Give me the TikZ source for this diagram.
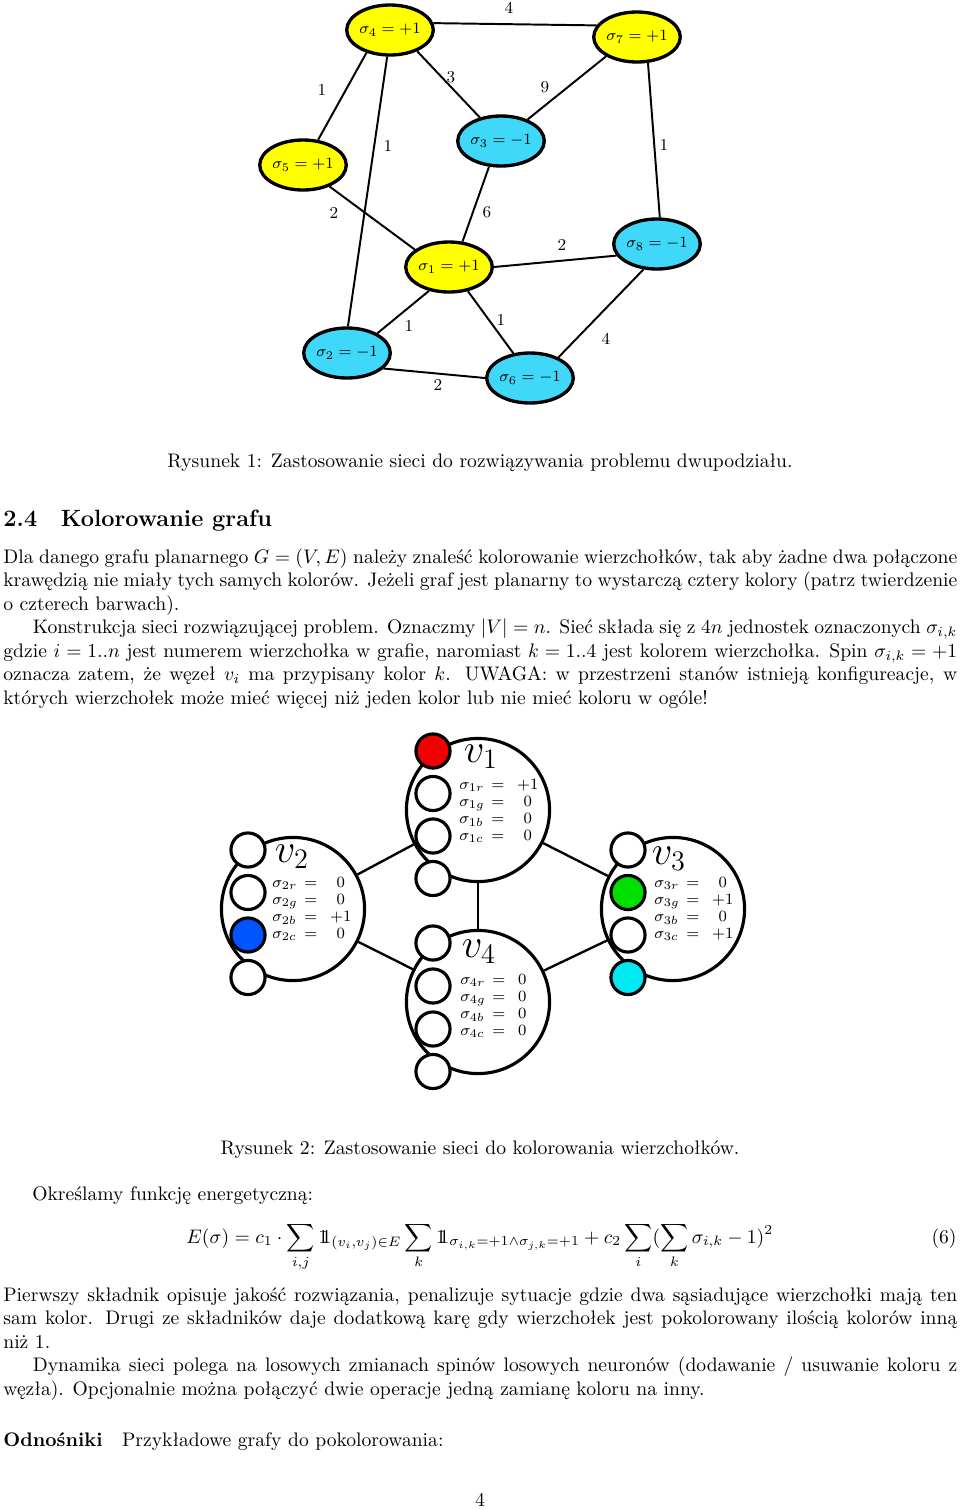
\documentclass[tikz,border=0pt]{standalone}
\usepackage{amsmath,amssymb}
\usepackage{fontspec}
\IfFileExists{dsfont.sty}{\usepackage{dsfont}\newcommand\myone{\mathds{1}}}{\newcommand\myone{\mathrm{1\!\!1}}}
\usetikzlibrary{shapes.geometric}
\definecolor{tyel}{HTML}{FFFF00}
\definecolor{tcyan}{HTML}{40D8F8}
\definecolor{cred}{HTML}{F00000}
\definecolor{cblue}{HTML}{0055FF}
\definecolor{cgreen}{HTML}{00E000}
\definecolor{ccyan}{HTML}{00E8F0}
\newcommand\spintab[1]{$\begin{array}{@{}l@{\hspace{3.4pt}}c@{\hspace{6.6pt}}c@{}}#1\end{array}$}
\begin{document}
\begin{tikzpicture}[x=0.51pt,y=-0.51pt,
  tnode/.style={ellipse, draw, line width=1.7pt, minimum width=37pt, minimum height=25.5pt, inner sep=0pt, font=\fontsize{8.5}{10}\selectfont},
  tedge/.style={line width=1pt},
  lbl/.style={inner sep=0pt, font=\fontsize{8.5}{10}\selectfont},
  bigc/.style={circle, draw, line width=1.6pt, minimum size=73pt, inner sep=0pt},
  smallc/.style={circle, draw, fill=white, line width=1.6pt, minimum size=17.4pt, inner sep=0pt},
  cedge/.style={line width=1.2pt},
  vlab/.style={inner sep=0pt, font=\huge},
  tab/.style={inner sep=0pt, anchor=west, font=\fontsize{8}{8.7}\selectfont},
  txt/.style={inner sep=0pt, anchor=base west, font=\normalsize}
]
\useasboundingbox (0,0) rectangle (960,1509);

% ---------- Figure 1 ----------
\node[tnode, fill=tyel]  (s4) at (390,30)  {$\sigma_4=+1$};
\node[tnode, fill=tyel]  (s7) at (637,37)  {$\sigma_7=+1$};
\node[tnode, fill=tcyan] (s3) at (501,141) {$\sigma_3=-1$};
\node[tnode, fill=tyel]  (s5) at (303,165) {$\sigma_5=+1$};
\node[tnode, fill=tyel]  (s1) at (449,267) {$\sigma_1=+1$};
\node[tnode, fill=tcyan] (s8) at (657,244) {$\sigma_8=-1$};
\node[tnode, fill=tcyan] (s2) at (347,353) {$\sigma_2=-1$};
\node[tnode, fill=tcyan] (s6) at (530,378) {$\sigma_6=-1$};

\draw[tedge] (s4.9) -- (s7.164);
\draw[tedge] (s4.-136) -- (s5.59);
\draw[tedge] (s4.-96) -- (s2.88);
\draw[tedge] (s4.-38) -- (s3.132);
\draw[tedge] (s7.-148) -- (s3.39);
\draw[tedge] (s7.-67) -- (s8.84);
\draw[tedge] (s5.-39) -- (s1.153);
\draw[tedge] (s3.-115) -- (s1.62);
\draw[tedge] (s1.0) -- (s8.-164);
\draw[tedge] (s1.-130) -- (s2.33);
\draw[tedge] (s1.-52) -- (s6.124);
\draw[tedge] (s8.-118) -- (s6.36);
\draw[tedge] (s2.-23) -- (s6.180);

\node[lbl] (l47) at (509,8)   {4};
\node[lbl] (l45) at (322,90)  {1};
\node[lbl] (l42) at (388,146) {1};
\node[lbl] (l43) at (451,77)  {3};
\node[lbl] (l73) at (545,87)  {9};
\node[lbl] (l78) at (664,145) {1};
\node[lbl] (l51) at (334,213) {2};
\node[lbl] (l31) at (487,212) {6};
\node[lbl] (l18) at (562,245) {2};
\node[lbl] (l12) at (409,326) {1};
\node[lbl] (l16) at (501,320) {1};
\node[lbl] (l86) at (606,339) {4};
\node[lbl] (l26) at (438,385) {2};

\node[inner sep=0pt, anchor=base] (cap1) at (480,467) {Rysunek 1: Zastosowanie sieci do rozwiązywania problemu dwupodziału.};

% ---------- Text ----------
\node[txt] (sec) at (3,526) {\large\bfseries 2.4\quad Kolorowanie grafu};

\node[txt] (par1) at (3,563) {\parbox[t]{486.5pt}{\setlength{\parindent}{15pt}\emergencystretch=2em
\noindent Dla danego grafu planarnego $G=(V,E)$ należy znaleść kolorowanie wierzchołków, tak aby żadne dwa połączone\linebreak
krawędzią nie miały tych samych kolorów. Jeżeli graf jest planarny to wystarczą cztery kolory (patrz twierdzenie\linebreak
o czterech barwach).\par
Konstrukcja sieci rozwiązującej problem. Oznaczmy $|V|=n$. Sieć składa się z $4n$ jednostek oznaczonych $\sigma_{i,k}$\linebreak
gdzie $i=1..n$ jest numerem wierzchołka w grafie, naromiast $k=1..4$ jest kolorem wierzchołka. Spin $\sigma_{i,k}=+1$\linebreak
oznacza zatem, że węzeł $v_i$ ma przypisany kolor $k$. UWAGA: w przestrzeni stanów istnieją konfigureacje, w\linebreak
których wierzchołek może mieć więcej niż jeden kolor lub nie mieć koloru w ogóle!}};

% ---------- Figure 2 ----------
\node[bigc] (v1) at (478,810) {};
\node[bigc] (v2) at (293,909) {};
\node[bigc] (v3) at (673,909) {};
\node[bigc] (v4) at (478,1002) {};

\draw[cedge] (v1) -- (v2);
\draw[cedge] (v1) -- (v3);
\draw[cedge] (v1) -- (v4);
\draw[cedge] (v2) -- (v4);
\draw[cedge] (v4) -- (v3);

\node[smallc, fill=cred] (v1r) at (433,751) {};
\node[smallc] (v1g) at (433,793.5) {};
\node[smallc] (v1b) at (433,836) {};
\node[smallc] (v1c) at (433,878.5) {};

\node[smallc] (v2r) at (248,850) {};
\node[smallc] (v2g) at (248,892.5) {};
\node[smallc, fill=cblue] (v2b) at (248,935) {};
\node[smallc] (v2c) at (248,977.5) {};

\node[smallc] (v3r) at (628,850) {};
\node[smallc, fill=cgreen] (v3g) at (628,892.5) {};
\node[smallc] (v3b) at (628,935) {};
\node[smallc, fill=ccyan] (v3c) at (628,977.5) {};

\node[smallc] (v4r) at (433,943) {};
\node[smallc] (v4g) at (433,986) {};
\node[smallc] (v4b) at (433,1029) {};
\node[smallc] (v4c) at (433,1071.5) {};

\node[vlab] (v1l) at (481,757) {$v_1$};
\node[vlab] (v2l) at (292,857) {$v_2$};
\node[vlab] (v3l) at (669,859) {$v_3$};
\node[vlab] (v4l) at (479,952) {$v_4$};

\node[tab] (t1) at (459,811.5) {\spintab{\sigma_{1r}&=&+1\\ \sigma_{1g}&=&0\\ \sigma_{1b}&=&0\\ \sigma_{1c}&=&0}};
\node[tab] (t2) at (272,909.5) {\spintab{\sigma_{2r}&=&0\\ \sigma_{2g}&=&0\\ \sigma_{2b}&=&+1\\ \sigma_{2c}&=&0}};
\node[tab] (t3) at (654,909.5) {\spintab{\sigma_{3r}&=&0\\ \sigma_{3g}&=&+1\\ \sigma_{3b}&=&0\\ \sigma_{3c}&=&+1}};
\node[tab] (t4) at (460,1006.5) {\spintab{\sigma_{4r}&=&0\\ \sigma_{4g}&=&0\\ \sigma_{4b}&=&0\\ \sigma_{4c}&=&0}};

\node[inner sep=0pt, anchor=base] (cap2) at (480,1154) {Rysunek 2: Zastosowanie sieci do kolorowania wierzchołków.};

% ---------- Equation and text ----------
\node[txt] (okr) at (32,1200) {Określamy funkcję energetyczną:};

\node[txt] (eq) at (186,1243) {$\displaystyle E(\sigma)=c_1\cdot\sum_{i,j}\myone_{(v_i,v_j)\in E}\sum_k\myone_{\sigma_{i,k}=+1\wedge\sigma_{j,k}=+1}+c_2\sum_i(\sum_k\sigma_{i,k}-1)^2$};
\node[inner sep=0pt, anchor=base east] (eqn) at (957,1243) {(6)};

\node[txt] (par2) at (3,1301) {\parbox[t]{486.5pt}{\setlength{\parindent}{15pt}\emergencystretch=2em
\noindent Pierwszy składnik opisuje jakość rozwiązania, penalizuje sytuacje gdzie dwa sąsiadujące wierzchołki mają ten\linebreak
sam kolor. Drugi ze składników daje dodatkową karę gdy wierzchołek jest pokolorowany ilością kolorów inną\linebreak
niż 1.\par
Dynamika sieci polega na losowych zmianach spinów losowych neuronów (dodawanie / usuwanie koloru z\linebreak
węzła). Opcjonalnie można połączyć dwie operacje jedną zamianę koloru na inny.}};

\node[txt] (odn) at (3,1446) {\textbf{Odnośniki}\quad Przykładowe grafy do pokolorowania:};

\node[inner sep=0pt, anchor=base] (pg) at (480,1506) {4};
\end{tikzpicture}
\end{document}
